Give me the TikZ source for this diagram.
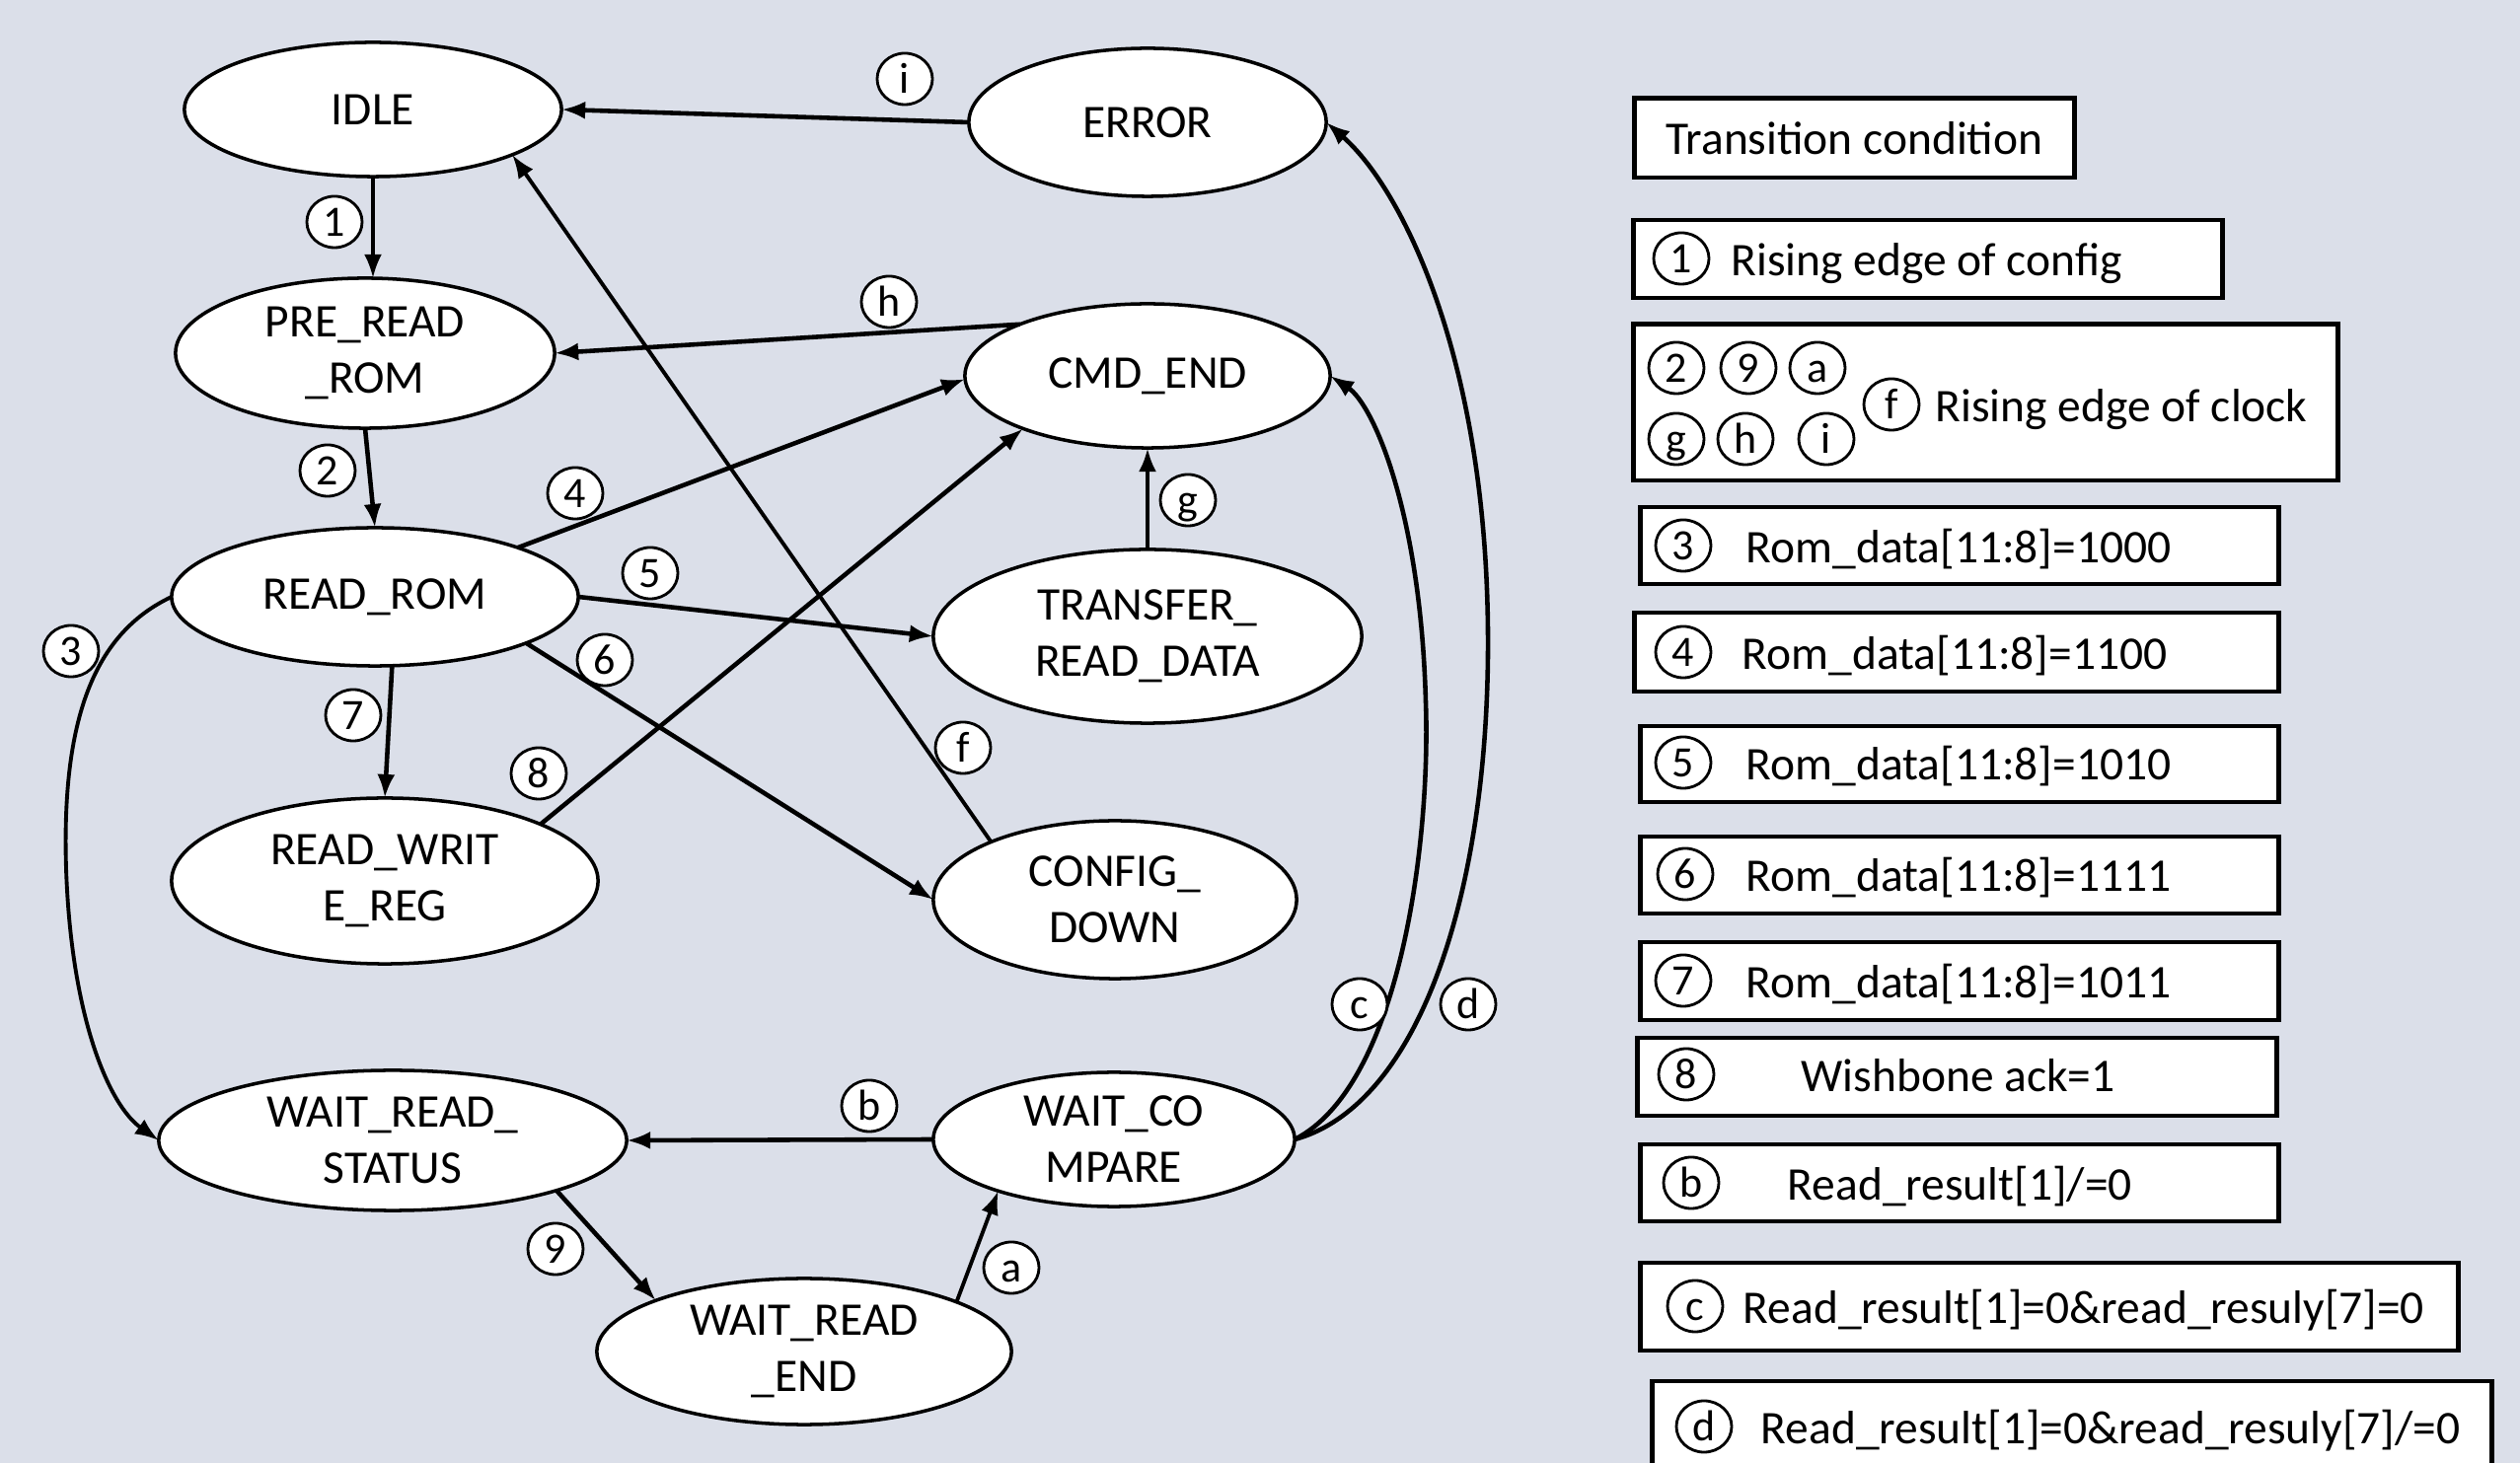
\documentclass[tikz,border=0pt]{standalone}
\usepackage{fontspec}
\setmainfont{Carlito}
\usetikzlibrary{shapes.geometric,arrows.meta}
\definecolor{bgc}{RGB}{219,223,233}
\begin{document}
\begin{tikzpicture}[x=0.01cm,y=-0.01cm,
  state/.style={ellipse,draw,line width=1pt,fill=white,inner sep=0pt,outer sep=0pt,align=center,font=\fontsize{13.5}{16.2}\selectfont},
  tlabel/.style={ellipse,draw,line width=0.8pt,fill=white,inner sep=0pt,minimum width=0.56cm,minimum height=0.52cm,text height=8pt,text depth=0pt,font=\fontsize{12.5}{14}\selectfont},
  conn/.style={line width=1.3pt,-{Latex[length=2.4mm,width=1.8mm]}},
  legbox/.style={rectangle,draw,line width=1.4pt,fill=white,inner sep=0pt,outer sep=0pt},
  legtext/.style={anchor=base west,yshift=-5pt,inner sep=0pt,font=\fontsize{13.5}{16}\selectfont}]
\clip (0,0) rectangle (2554,1483);
\fill[bgc] (0,0) rectangle (2554,1483);

% states
\node[state,minimum width=3.82cm,minimum height=1.36cm] (idle) at (378,111) {IDLE};
\node[state,minimum width=3.62cm,minimum height=1.50cm] (err) at (1163,124) {ERROR};
\node[state,minimum width=3.84cm,minimum height=1.52cm] (prr) at (370,358) {PRE\_READ\\\_ROM};
\node[state,minimum width=3.70cm,minimum height=1.46cm] (ce) at (1163,381) {CMD\_END};
\node[state,minimum width=4.12cm,minimum height=1.40cm] (rr) at (380,605) {READ\_ROM};
\node[state,minimum width=4.34cm,minimum height=1.76cm] (tr) at (1163,645) {TRANSFER\_\\READ\_DATA};
\node[state,minimum width=4.32cm,minimum height=1.68cm] (rw) at (390,893) {READ\_WRIT\\E\_REG};
\node[state,minimum width=3.68cm,minimum height=1.60cm] (cd) at (1130,912) {CONFIG\_\\DOWN};
\node[state,minimum width=4.74cm,minimum height=1.42cm] (wrs) at (398,1156) {WAIT\_READ\_\\STATUS};
\node[state,minimum width=3.66cm,minimum height=1.36cm] (wc) at (1129,1155) {WAIT\_CO\\MPARE};
\node[state,minimum width=4.20cm,minimum height=1.48cm] (wre) at (815,1370) {WAIT\_READ\\\_END};

% connectors
\draw[conn,line width=1.1pt] (idle.south) -- (idle.south |- prr.north);
\draw[conn] (prr.south) -- (rr.north);
\draw[conn,line width=1.1pt] (rr.west) .. controls (100,640) and (62,720) .. (67,880) .. controls (72,1030) and (110,1120) .. (wrs.west);
\draw[conn] (rr.19.3) -- (ce.181.5);
\draw[conn] (rr.east) -- (tr.west);
\draw[conn] (rr.-17.6) -- (cd.west);
\draw[conn] (rr.-76) -- (rw.north);
\draw[conn] (rw.20.4) -- (ce.203.5);
\draw[conn] (wrs.-17) -- (wre.161);
\draw[conn,line width=1.1pt] (wre.18.5) -- (wc.204);
\draw[conn] (wc.west) -- (wrs.east);
\draw[conn] (wc.east) .. controls (1420,1100) and (1450,850) .. (1445,712) .. controls (1440,520) and (1392,410) .. (ce.east);
\draw[conn] (wc.east) .. controls (1440,1120) and (1510,900) .. (1508,641) .. controls (1506,360) and (1420,190) .. (err.east);
\draw[conn,line width=1.1pt] (cd.155) -- (idle.-18);
\draw[conn] (tr.north) -- (ce.south);
\draw[conn] (ce.158) -- (prr.east);
\draw[conn] (err.west) -- (idle.east);

% transition labels
\node[tlabel] (l1) at (339,225) {1};
\node[tlabel] (l2) at (332,477) {2};
\node[tlabel] (l3) at (72,660) {3};
\node[tlabel] (l4) at (583,500) {4};
\node[tlabel] (l5) at (659,581) {5};
\node[tlabel] (l6) at (613,669) {6};
\node[tlabel] (l7) at (358,725) {7};
\node[tlabel] (l8) at (546,784) {8};
\node[tlabel] (l9) at (563,1266) {9};
\node[tlabel] (la) at (1025,1285) {a};
\node[tlabel] (lb) at (881,1121) {b};
\node[tlabel] (lc) at (1378,1018) {c};
\node[tlabel] (ld) at (1488,1018) {d};
\node[tlabel] (lf) at (976,758) {f};
\node[tlabel] (lg) at (1204,507) {g};
\node[tlabel] (lh) at (901,306) {h};
\node[tlabel] (li) at (917,80) {i};

% legend
\node[legbox,minimum width=4.45cm,minimum height=0.80cm,font=\fontsize{13.5}{16}\selectfont] (b0) at (1879.5,140) {Transition condition};

\node[legbox,minimum width=5.96cm,minimum height=0.79cm] (b1) at (1954,262.5) {};
\node[tlabel] (k1) at (1704,262) {1};
\node[legtext] (t1) at (1754,262) {Rising edge of config};

\node[legbox,minimum width=7.13cm,minimum height=1.58cm] (b2) at (2012.5,408) {};
\node[tlabel] (k2) at (1699,373) {2};
\node[tlabel] (k9) at (1772,373) {9};
\node[tlabel] (ka) at (1842,373) {a};
\node[tlabel] (kg) at (1699,445) {g};
\node[tlabel] (kh) at (1769,445) {h};
\node[tlabel] (ki) at (1851,445) {i};
\node[tlabel] (kf) at (1917,410) {f};
\node[legtext] (t2) at (1961,410) {Rising edge of clock};

\node[legbox,minimum width=6.46cm,minimum height=0.78cm] (b3) at (1986,553) {};
\node[tlabel] (k3) at (1706,553) {3};
\node[legtext] (t3) at (1769,553) {Rom\_data[11:8]=1000};

\node[legbox,minimum width=6.52cm,minimum height=0.80cm] (b4) at (1983,661) {};
\node[tlabel] (k4) at (1706,661) {4};
\node[legtext] (t4) at (1765,661) {Rom\_data[11:8]=1100};

\node[legbox,minimum width=6.46cm,minimum height=0.77cm] (b5) at (1986,774.5) {};
\node[tlabel] (k5) at (1706,773) {5};
\node[legtext] (t5) at (1769,773) {Rom\_data[11:8]=1010};

\node[legbox,minimum width=6.46cm,minimum height=0.78cm] (b6) at (1986,887) {};
\node[tlabel] (k6) at (1708,886) {6};
\node[legtext] (t6) at (1769,886) {Rom\_data[11:8]=1111};

\node[legbox,minimum width=6.46cm,minimum height=0.79cm] (b7) at (1986,994.5) {};
\node[tlabel] (k7) at (1706,994) {7};
\node[legtext] (t7) at (1769,994) {Rom\_data[11:8]=1011};

\node[legbox,minimum width=6.47cm,minimum height=0.79cm] (b8) at (1983.5,1091.5) {};
\node[tlabel] (k8) at (1709,1089) {8};
\node[legtext] (t8) at (1825,1089) {Wishbone ack=1};

\node[legbox,minimum width=6.46cm,minimum height=0.78cm] (b9) at (1986,1199) {};
\node[tlabel] (kb) at (1714,1199) {b};
\node[legtext] (tb) at (1811,1199) {Read\_result[1]/=0};

\node[legbox,minimum width=8.28cm,minimum height=0.89cm] (b10) at (2077,1324.5) {};
\node[tlabel] (kc) at (1718,1324) {c};
\node[legtext] (tc) at (1766,1324) {Read\_result[1]=0\&read\_resuly[7]=0};

\node[legbox,minimum width=8.50cm,minimum height=1.20cm] (b11) at (2100,1460) {};
\node[tlabel] (kd) at (1727,1446) {d};
\node[legtext] (td) at (1784,1446) {Read\_result[1]=0\&read\_resuly[7]/=0};
\end{tikzpicture}
\end{document}
